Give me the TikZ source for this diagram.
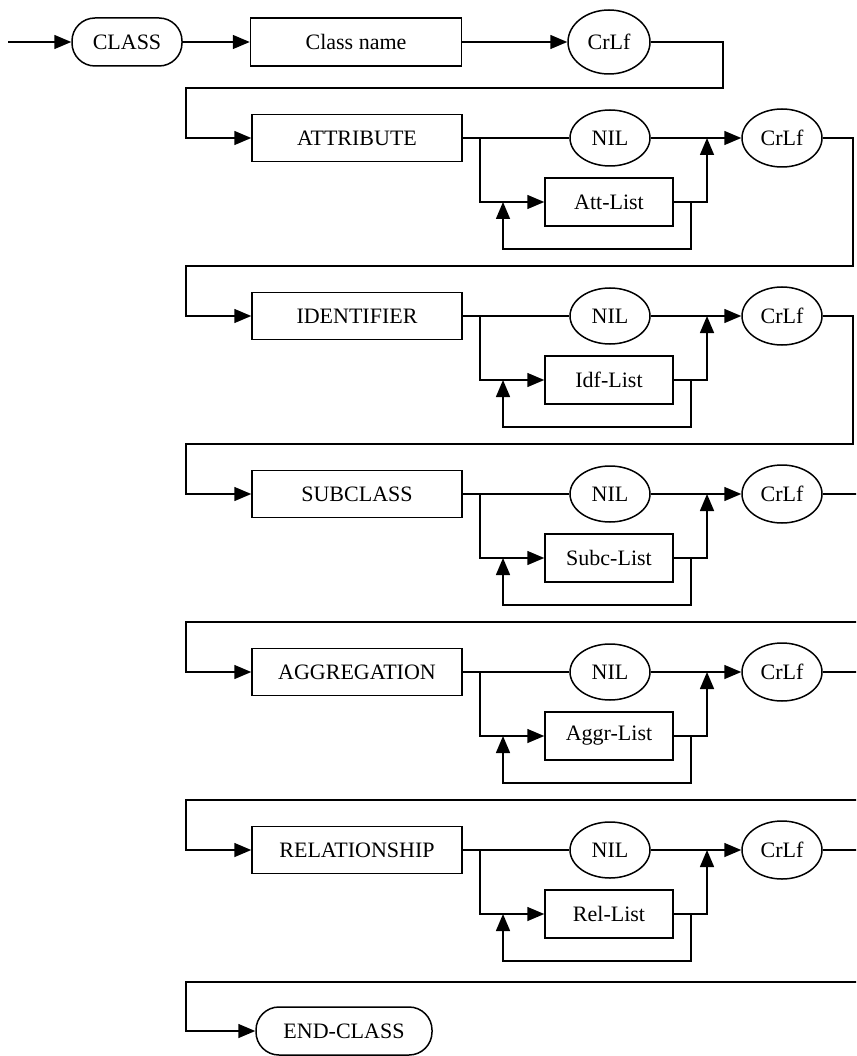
\documentclass[tikz,border=0pt]{standalone}
\usepackage{fontspec}
\setmainfont{Liberation Serif}
\usetikzlibrary{shapes.geometric,arrows.meta,positioning,calc}

\tikzset{
  conn/.style={line width=1.5pt},
  arr/.style={conn, -{Triangle[length=17pt,width=14pt]}},
  keybox/.style={draw, line width=1.5pt, minimum width=210pt, minimum height=47pt, inner sep=0pt},
  listbox/.style={draw, line width=1.5pt, minimum width=128pt, minimum height=48pt, inner sep=0pt},
  oval/.style={draw, ellipse, line width=1.5pt, minimum width=80pt, minimum height=56pt, inner sep=0pt},
  term/.style={draw, line width=1.5pt, rounded corners=23pt, minimum height=48pt, inner sep=0pt}
}

\begin{document}
\begin{tikzpicture}[x=1pt, y=-1pt, font=\fontsize{22}{26}\selectfont]
    \useasboundingbox (0,0) rectangle (856,1056);
    \clip (0,0) rectangle (856,1056);

    % First row
    \coordinate (start) at (8,42);
    \node [term, minimum width=110pt] (class) at (127,42) {CLASS};
    \node [keybox, minimum width=211pt, minimum height=48pt] (cname) at (356,42) {Class name};
    \node [oval, minimum width=82pt, minimum height=64pt] (crlf) at (609,42) {CrLf};
    \draw [arr] (start) -- (class.west);
    \draw [arr] (class.east) -- (cname.west);
    \draw [arr] (cname.east) -- (crlf.west);

    % Sections
    \foreach \k/\kw/\lst/\prev/\rx in {0/ATTRIBUTE/Att-List/crlf/723, 1/IDENTIFIER/Idf-List/crlf0/853, 2/SUBCLASS/Subc-List/crlf1/853, 3/AGGREGATION/Aggr-List/crlf2/870, 4/RELATIONSHIP/Rel-List/crlf3/870} {
        \pgfmathsetmacro\yy{138+178*\k}
        \pgfmathsetmacro\ly{\yy+64}
        \node [keybox] (kw\k) at (357,\yy) {\kw};
        \node [oval] (nil\k) at (610,\yy) {NIL};
        \node [oval, minimum height=58pt] (crlf\k) at (782,\yy) {CrLf};
        \node [listbox] (lst\k) at (609,\ly) {\lst};
        \coordinate (br\k) at (480,\yy);
        \coordinate (jn\k) at (707,\yy);
        \coordinate (lpa\k) at (691,\ly);
        \coordinate (lpb\k) at (503,\ly);
        \draw [arr] (\prev.east) -| (\rx,\yy-50) -| (186,\yy) -- (kw\k.west);
        \draw [conn] (kw\k.east) -- (nil\k.west);
        \draw [arr] (nil\k.east) -- (crlf\k.west);
        \draw [arr] (br\k) |- (lst\k.west);
        \draw [arr] (lst\k.east) -| (jn\k);
        \draw [arr] (lpa\k) -- ++(0,47) -| (lpb\k);
    }

    % End
    \node [term, minimum width=176pt] (endc) at (344,1031) {END-CLASS};
    \draw [arr] (crlf4.east) -| (870,982) -| (186,1031) -- (endc.west);
\end{tikzpicture}
\end{document}
